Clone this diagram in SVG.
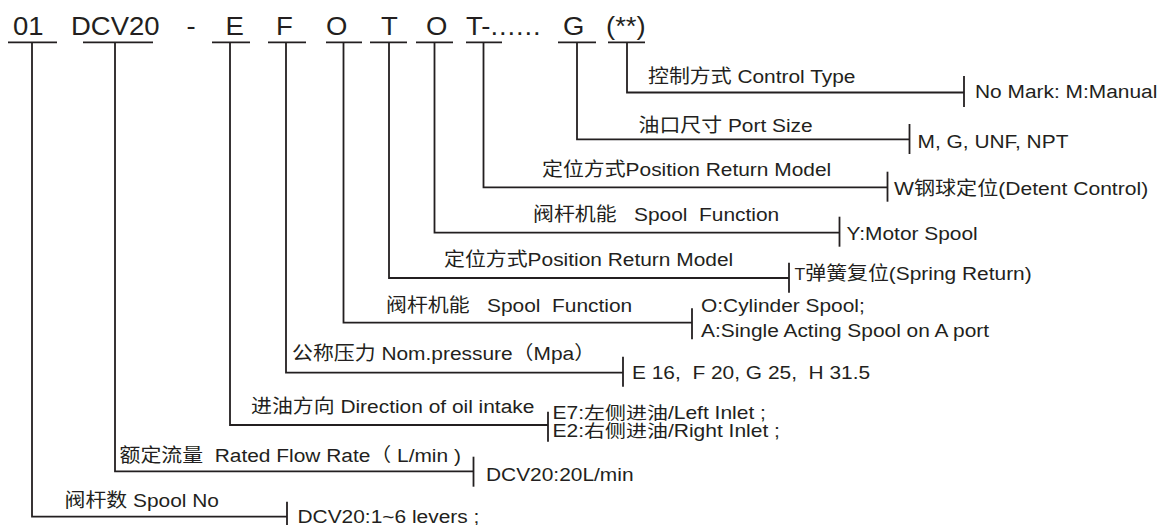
<svg xmlns="http://www.w3.org/2000/svg" width="1160" height="525" viewBox="0 0 1160 525">
<style>
text{font-family:"Liberation Sans",Arial,"Noto Sans CJK SC",sans-serif;fill:#231f20;}
.h{font-size:25px;}
.t{font-size:19px;}
.s{font-size:17.5px;}
.ul,.c,.k{fill:none;stroke:#231f20;stroke-width:1.8;}
</style>
<rect width="1160" height="525" fill="#ffffff"/>
<g id="code-01"><text class="h" transform="translate(13 35) scale(1.1 1)">01</text><path class="ul" d="M8 42.3H57"/></g>
<g id="code-dcv20"><text class="h" transform="translate(71 35) scale(1.1 1)">DCV20</text><path class="ul" d="M83 42.3H153"/></g>
<g id="code-dash"><text class="h" transform="translate(186.5 35) scale(1.1 1)">-</text></g>
<g id="code-e"><text class="h" transform="translate(225.5 35) scale(1.1 1)">E</text><path class="ul" d="M212 42.3H250"/></g>
<g id="code-f"><text class="h" transform="translate(276 35) scale(1.1 1)">F</text><path class="ul" d="M268 42.3H306"/></g>
<g id="code-o1"><text class="h" transform="translate(326 35) scale(1.1 1)">O</text><path class="ul" d="M326 42.3H362" stroke-width="2.4"/></g>
<g id="code-t1"><text class="h" transform="translate(381 35) scale(1.1 1)">T</text><path class="ul" d="M370 42.3H407"/></g>
<g id="code-o2"><text class="h" transform="translate(426 35) scale(1.1 1)">O</text><path class="ul" d="M416 42.3H453"/></g>
<g id="code-t2"><text class="h" transform="translate(466 35) scale(1.1 1)">T-<tspan letter-spacing="0.8">......</tspan></text><path class="ul" d="M466 42.3H502"/></g>
<g id="code-g"><text class="h" transform="translate(563 35) scale(1.1 1)">G</text><path class="ul" d="M558 42.3H596"/></g>
<g id="code-control"><text class="h" transform="translate(606 35) scale(1.1 1)">(**)</text><path class="ul" d="M608 42.3H645"/></g>

<g id="connectors">
<path class="c" d="M32 42V516.7H287"/><path class="k" d="M287 501.7V532"/>
<path class="c" d="M115 42V471.3H473.5"/><path class="k" d="M473.5 456.7V486.7"/>
<path class="c" d="M230 42V425H548"/><path class="k" d="M548 411.7V441.7"/>
<path class="c" d="M286 42V372.7H623"/><path class="k" d="M623 356.7V386.7"/>
<path class="c" d="M343.5 42V322.7H692"/><path class="k" d="M692 308.3V339.3"/>
<path class="c" d="M389 42V278H789"/><path class="k" d="M789 262.7V292.7"/>
<path class="c" d="M434.5 42V232.7H839.5"/><path class="k" d="M839.5 216.7V246.7"/>
<path class="c" d="M483.5 42V187.3H887.5"/><path class="k" d="M887.5 171.7V201.7"/>
<path class="c" d="M577 42V139.3H909.5"/><path class="k" d="M909.5 124V154"/>
<path class="c" d="M627 42V92.5H964"/><path class="k" d="M964 76V107"/>
</g>

<g id="field-control-type">
<text class="t" transform="translate(648 83) scale(1.1 1)">控制方式 Control Type</text>
<text class="t" transform="translate(975 98) scale(1.1 1)">No Mark: M:Manual</text>
</g>
<g id="field-port-size">
<text class="t" transform="translate(638.5 131.7) scale(1.1 1)">油口尺寸 Port Size</text>
<text class="t" transform="translate(917.5 147.7) scale(1.1 1)">M, G, UNF, NPT</text>
</g>
<g id="field-position-w">
<text class="t" transform="translate(542 175.5) scale(1.1 1)">定位方式Position Return Model</text>
<text class="t" transform="translate(894 195) scale(1.11 1)">W钢球定位(Detent Control)</text>
</g>
<g id="field-spool-y">
<text class="t" xml:space="preserve" transform="translate(533 221) scale(1.1 1)">阀杆机能   Spool  Function</text>
<text class="t" transform="translate(846.5 240) scale(1.1 1)">Y:Motor Spool</text>
</g>
<g id="field-position-t">
<text class="t" transform="translate(444 265.5) scale(1.1 1)">定位方式Position Return Model</text>
<text class="t" transform="translate(794.5 280) scale(1.1 1)"><tspan font-size="16">T</tspan>弹簧复位(Spring Return)</text>
</g>
<g id="field-spool-o">
<text class="t" xml:space="preserve" transform="translate(386 311.5) scale(1.1 1)">阀杆机能   Spool  Function</text>
<text class="t" transform="translate(701 311.7) scale(1.1 1)">O:Cylinder Spool;</text>
<text class="t" transform="translate(701 336.7) scale(1.1 1)">A:Single Acting Spool on A port</text>
</g>
<g id="field-pressure">
<text class="t" transform="translate(292 360) scale(1.1 1)">公称压力 Nom.pressure（Mpa）</text>
<text class="t" xml:space="preserve" transform="translate(632 379.3) scale(1.1 1)">E 16,  F 20, G 25,  H 31.5</text>
</g>
<g id="field-direction">
<text class="t" transform="translate(251 412.7) scale(1.1 1)">进油方向 Direction of oil intake</text>
<text class="s" transform="translate(552.5 418.5) scale(1.2 1)">E7:左侧进油/Left Inlet ;</text>
<text class="s" transform="translate(552.5 437) scale(1.2 1)">E2:右侧进油/Right Inlet ;</text>
</g>
<g id="field-flow">
<text class="t" xml:space="preserve" transform="translate(119.5 461.7) scale(1.1 1)">额定流量  Rated Flow Rate（ L/min )</text>
<text class="t" transform="translate(486 480.7) scale(1.1 1)">DCV20:20L/min</text>
</g>
<g id="field-spool-no">
<text class="t" transform="translate(64.5 506.7) scale(1.1 1)">阀杆数 Spool No</text>
<text class="t" transform="translate(297.5 523) scale(1.1 1)">DCV20:1~6 levers ;</text>
</g>
</svg>
